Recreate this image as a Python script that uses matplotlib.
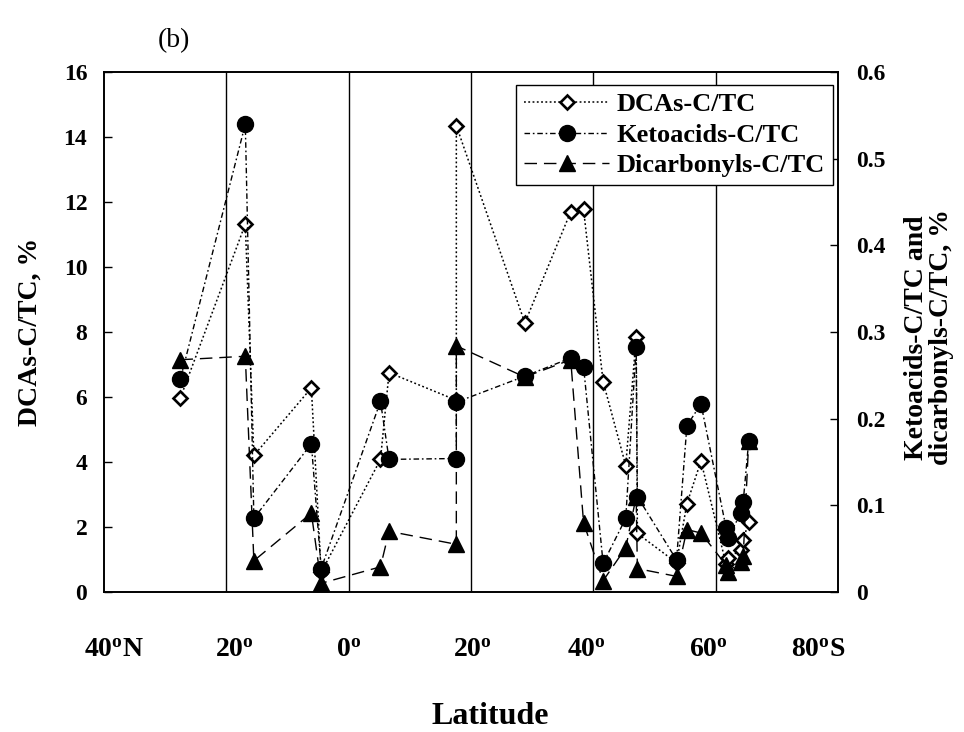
import matplotlib
matplotlib.use("Agg")
import matplotlib.pyplot as plt

plt.rcParams['font.family'] = 'Liberation Serif'
plt.rcParams['font.weight'] = 'bold'
plt.rcParams['axes.labelweight'] = 'bold'
plt.rcParams['mathtext.fontset'] = 'custom'
plt.rcParams['mathtext.rm'] = 'Liberation Serif:bold'
plt.rcParams['mathtext.bf'] = 'Liberation Serif:bold'
plt.rcParams['mathtext.it'] = 'Liberation Serif:bold'

# latitude in degrees, north negative, south positive
lat = [-27.5, -16.9, -15.5, -6.1, -4.5, 5.2, 6.6, 17.6, 17.6, 28.8,
       36.3, 38.4, 41.6, 45.3, 47.0, 47.2, 53.6, 55.3, 57.6,
       61.7, 62.0, 64.1, 64.5, 65.4]
# DCAs-C/TC, % (left axis)
dca = [5.98, 11.32, 4.2, 6.28, 0.6, 4.08, 6.75, 5.9, 14.35, 8.28,
       11.70, 11.77, 6.47, 3.89, 7.85, 1.8, 0.9, 2.72, 4.03,
       0.85, 1.05, 1.29, 1.6, 2.16]
# ketoacids-C/TC, % (right axis)
keto = [0.246, 0.540, 0.085, 0.171, 0.027, 0.220, 0.153, 0.154, 0.219, 0.249,
        0.270, 0.260, 0.033, 0.085, 0.283, 0.110, 0.037, 0.192, 0.217,
        0.074, 0.062, 0.091, 0.104, 0.174]
# dicarbonyls-C/TC, % (right axis)
dicarb = [0.268, 0.272, 0.036, 0.091, 0.010, 0.029, 0.070, 0.055, 0.284, 0.248,
          0.268, 0.080, 0.013, 0.051, 0.110, 0.027, 0.018, 0.072, 0.068,
          0.031, 0.023, 0.035, 0.041, 0.174]

xtick_pos = [-38.4, -18.6, 0, 20.2, 38.8, 58.8, 76.8]
xtick_lab = [r'40$^{\mathrm{o}}$N', r'20$^{\mathrm{o}}$', r'0$^{\mathrm{o}}$',
             r'20$^{\mathrm{o}}$', r'40$^{\mathrm{o}}$', r'60$^{\mathrm{o}}$',
             r'80$^{\mathrm{o}}$S']
region_lines = [-20, 0, 20, 40, 60]

fig = plt.figure(figsize=(9.64, 7.32), dpi=100)
ax = fig.add_axes([0.1079, 0.1913, 0.7614, 0.7103])
ax2 = ax.twinx()

for xv in region_lines:
    ax.axvline(xv, color='black', lw=1.0, zorder=1)

l1, = ax.plot(lat, dca, color='black', lw=1.1, linestyle=(0, (1.2, 1.6)),
              marker='D', ms=7.2, mfc='white', mec='black', mew=1.9,
              label='DCAs-C/TC', zorder=3)
l2, = ax2.plot(lat, keto, color='black', lw=1.0, linestyle=(0, (4, 2, 1.2, 2)),
               marker='o', ms=11.5, mfc='black', mec='black',
               label='Ketoacids-C/TC', zorder=3)
l3, = ax2.plot(lat, dicarb, color='black', lw=1.0, linestyle=(0, (9, 5)),
               marker='^', ms=11.5, mfc='black', mec='black',
               label='Dicarbonyls-C/TC', zorder=3)

ax.set_xlim(-40, 80)
ax.set_ylim(0, 16)
ax2.set_ylim(0, 0.6)
ax.set_yticks(range(0, 17, 2))
ax2.set_yticks([0, 0.1, 0.2, 0.3, 0.4, 0.5, 0.6])
ax2.set_yticklabels(['0', '0.1', '0.2', '0.3', '0.4', '0.5', '0.6'])
ax.set_xticks(xtick_pos)
ax.set_xticklabels(xtick_lab)

ax.tick_params(axis='y', direction='in', length=6, width=1, pad=12, labelsize=17)
ax2.tick_params(axis='y', direction='in', length=6, width=1, pad=13, labelsize=17)
ax.tick_params(axis='x', length=0, pad=33, labelsize=20)
for a in (ax, ax2):
    for s in a.spines.values():
        s.set_linewidth(1.2)

ax.set_ylabel('DCAs-C/TC, %', fontsize=20)
ax.yaxis.set_label_coords(-0.084, 0.5)
ax2.set_ylabel('Ketoacids-C/TC and\ndicarbonyls-C/TC, %', fontsize=20,
               linespacing=1.0)
ax2.yaxis.set_label_coords(1.09, 0.49)
fig.text(490 / 964, 1 - 716 / 732, 'Latitude', fontsize=23, ha='center', va='center')
fig.text(174 / 964, 1 - 41 / 732, '(b)', fontsize=20, weight='normal',
         ha='center', va='center')

leg = ax2.legend(handles=[l1, l2, l3], loc='upper right',
                 bbox_to_anchor=(0.993, 0.975), borderaxespad=0,
                 fancybox=False, framealpha=1, edgecolor='black',
                 fontsize=19, handlelength=3.2, borderpad=0.3,
                 labelspacing=0.26, handletextpad=0.3)
leg.get_frame().set_linewidth(1.0)

fig.savefig('out.png', dpi=100)
